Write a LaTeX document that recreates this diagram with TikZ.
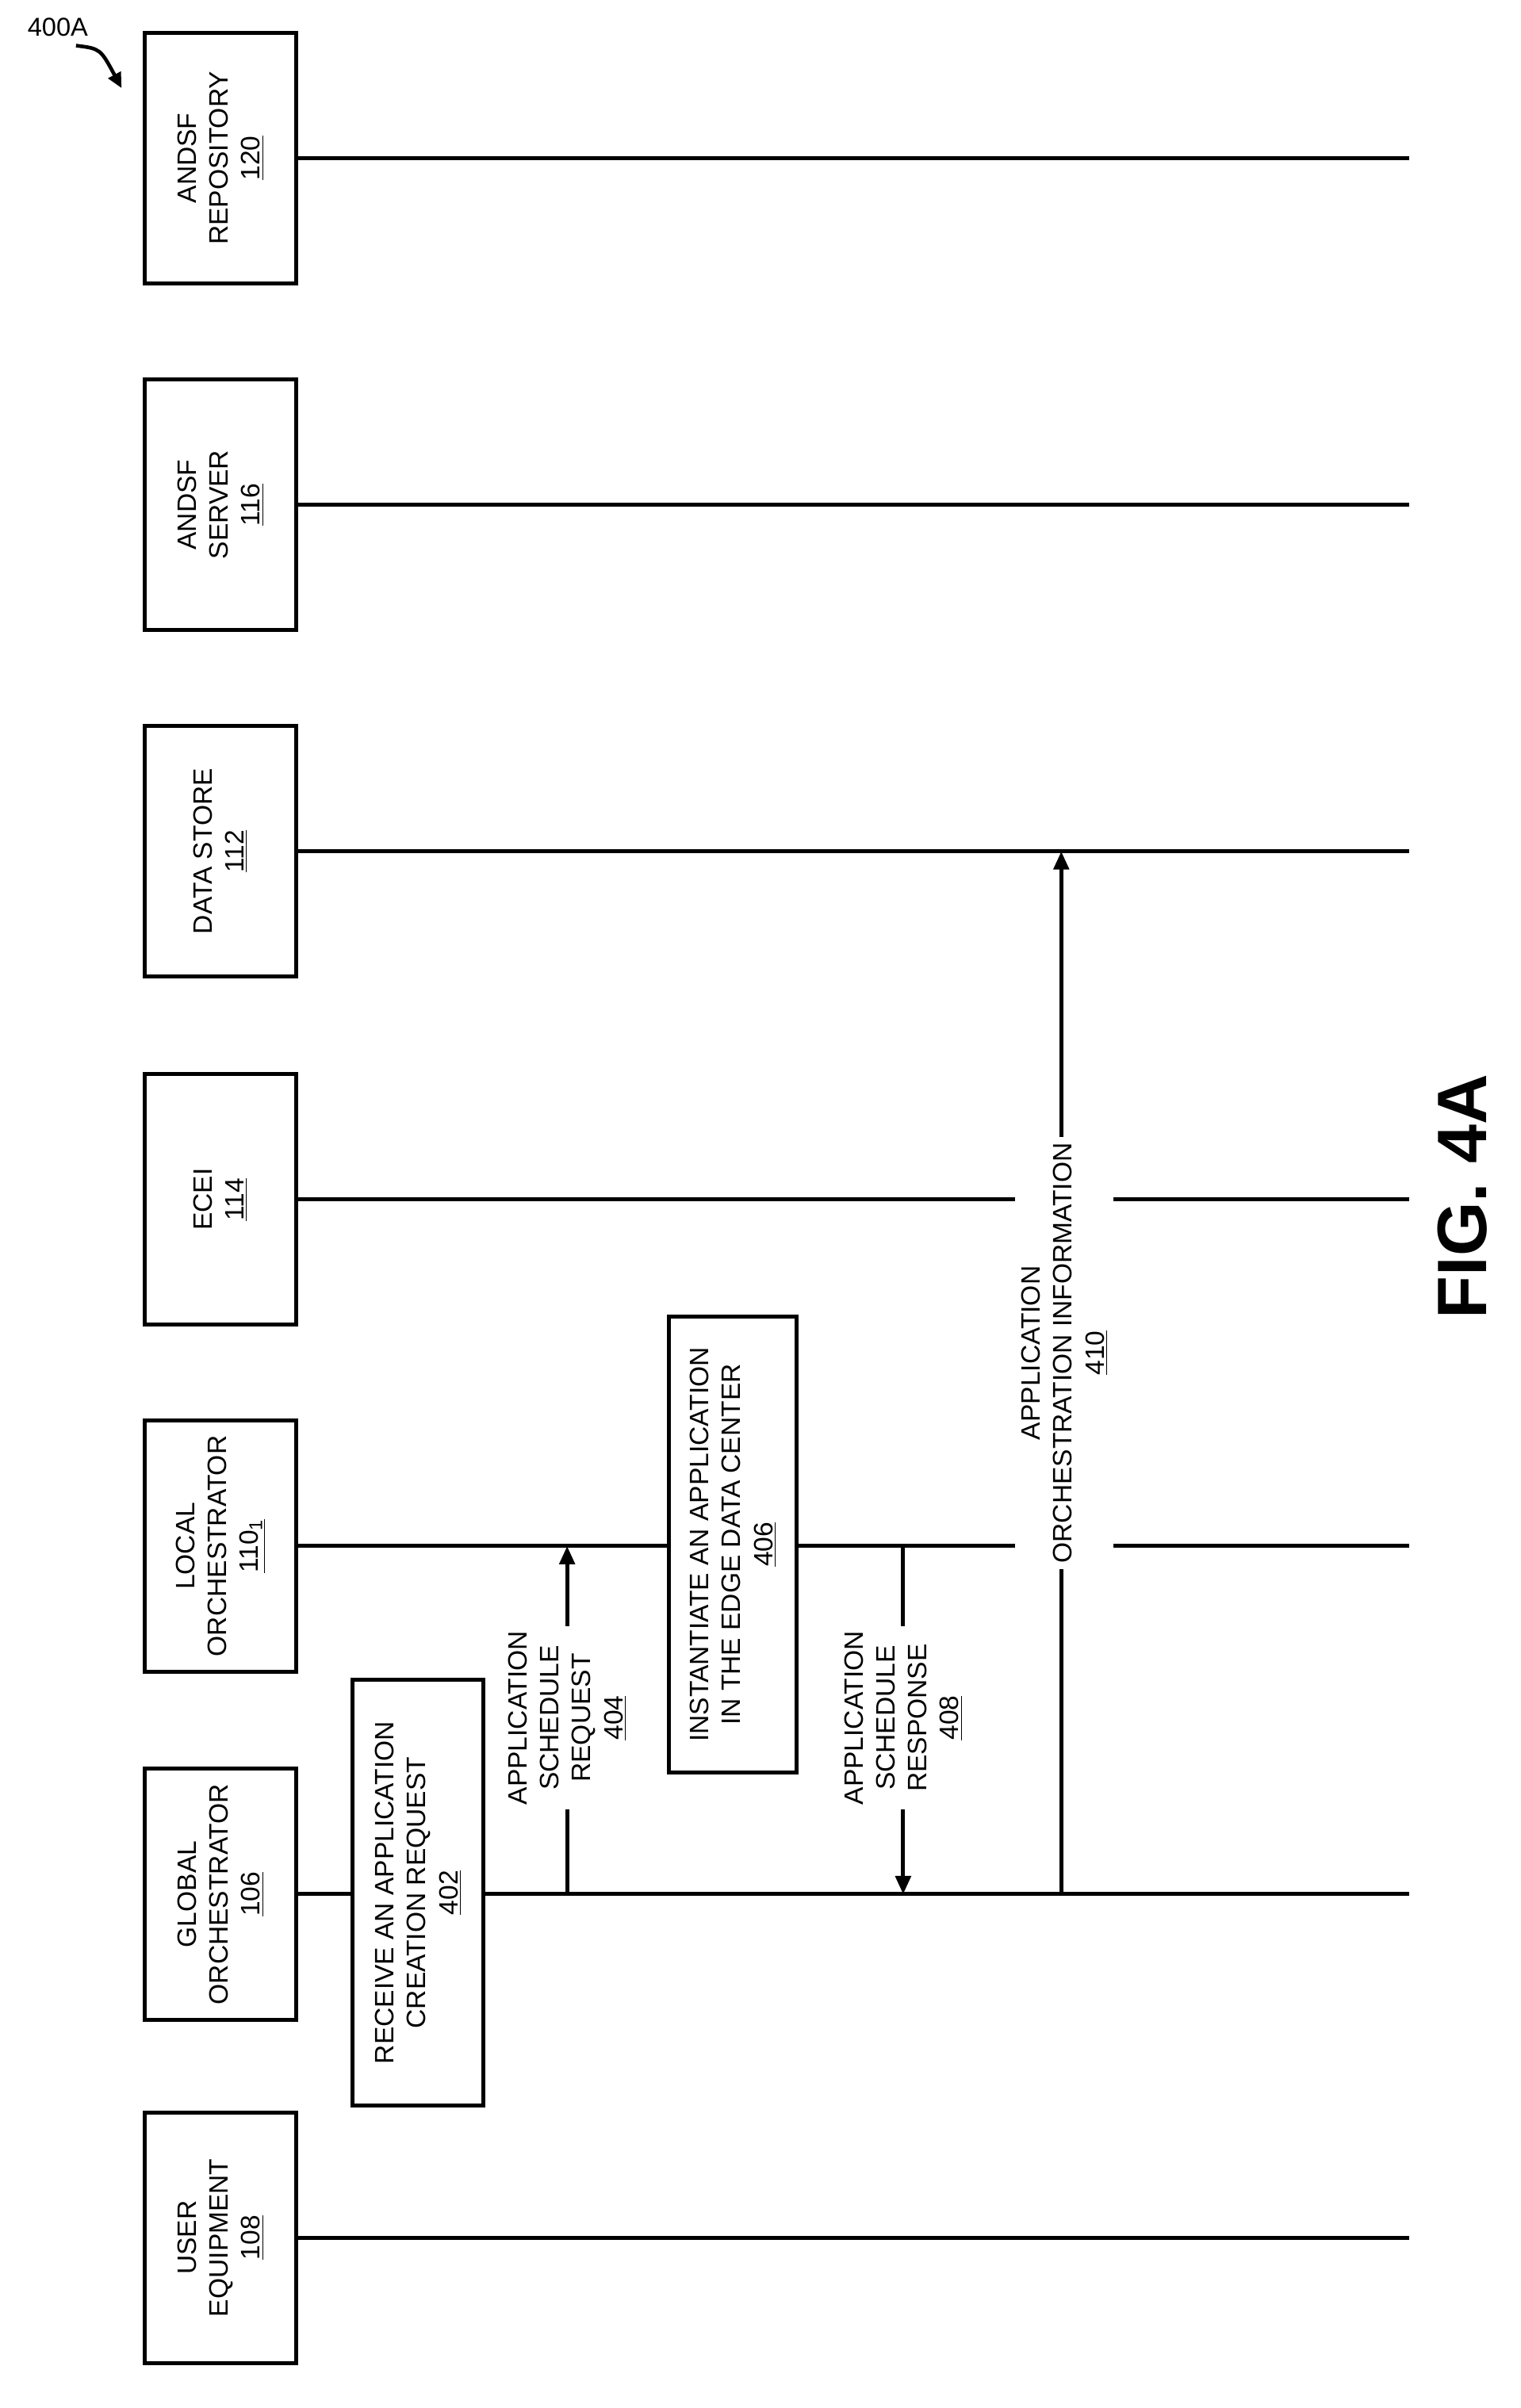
\documentclass[tikz,border=0pt]{standalone}
\usepackage{fontspec}
\setmainfont{Liberation Sans}
\usetikzlibrary{arrows.meta}
\begin{document}
\begin{tikzpicture}[x=1pt,y=-1pt,
  ent/.style={draw,line width=2.6pt,minimum width=100pt,minimum height=165pt,inner sep=0},
  lbl/.style={rotate=90,align=center,font=\fontsize{17.5}{21}\selectfont},
  life/.style={line width=2.6pt},
  msg/.style={line width=2.6pt,-{Triangle[length=12pt,width=10pt]}},
  act/.style={draw,line width=2.6pt,fill=white,inner sep=0}]
\useasboundingbox (0,0) rectangle (1000,1584);
\foreach \n/\y/\t in {rep/104/{ANDSF\\REPOSITORY\\\underline{120}},srv/332/{ANDSF\\SERVER\\\underline{116}},ds/560/{DATA STORE\\\underline{112}},ecei/789/{ECEI\\\underline{114}},lo/1017/{LOCAL\\ORCHESTRATOR\\\underline{110\textsubscript{1}}},go/1246/{GLOBAL\\ORCHESTRATOR\\\underline{106}},ue/1472/{USER\\EQUIPMENT\\\underline{108}}}{
  \node[ent] (\n) at (145,\y) {};
  \node[lbl] at (\n.center) {\t};
  \coordinate (\n e) at (927,\y);
  \draw[life] (\n.east) -- (\n e);
}
\node[act,minimum width=86pt,minimum height=280pt] (b402) at (275,1245) {};
\node[lbl] at (b402.center) {RECEIVE AN APPLICATION\\CREATION REQUEST\\\underline{402}};
\coordinate (a404s) at (373,1246); \coordinate (a404e) at (373,1017);
\draw[msg] (a404s) -- (a404e);
\node[lbl,fill=white,inner sep=3pt] (l404) at (373,1130) {APPLICATION\\SCHEDULE\\REQUEST\\\underline{404}};
\node[act,minimum width=84pt,minimum height=300pt] (b406) at (482,1016) {};
\node[lbl] at (b406.center) {INSTANTIATE AN APPLICATION\\IN THE EDGE DATA CENTER\\\underline{406}};
\coordinate (a408s) at (594,1017); \coordinate (a408e) at (594,1246);
\draw[msg] (a408s) -- (a408e);
\node[lbl,fill=white,inner sep=3pt] (l408) at (594,1130) {APPLICATION\\SCHEDULE\\RESPONSE\\\underline{408}};
\coordinate (a410s) at (698,1246); \coordinate (a410e) at (698,560);
\draw[msg] (a410s) -- (a410e);
\node[lbl,fill=white,inner sep=4pt] (l410) at (700,890) {APPLICATION\\ORCHESTRATION INFORMATION\\\underline{410}};
\node[rotate=90,font=\bfseries\fontsize{46}{50}\selectfont] (fig) at (962,787) {FIG. 4A};
\node[font=\fontsize{17}{20}\selectfont] (t400) at (38,18) {400A};
\coordinate (c400) at (80,58);
\draw[line width=2.4pt,-{Triangle[length=10pt,width=9pt]}] (50,30) .. controls (66,32) .. (c400);
\end{tikzpicture}
\end{document}
